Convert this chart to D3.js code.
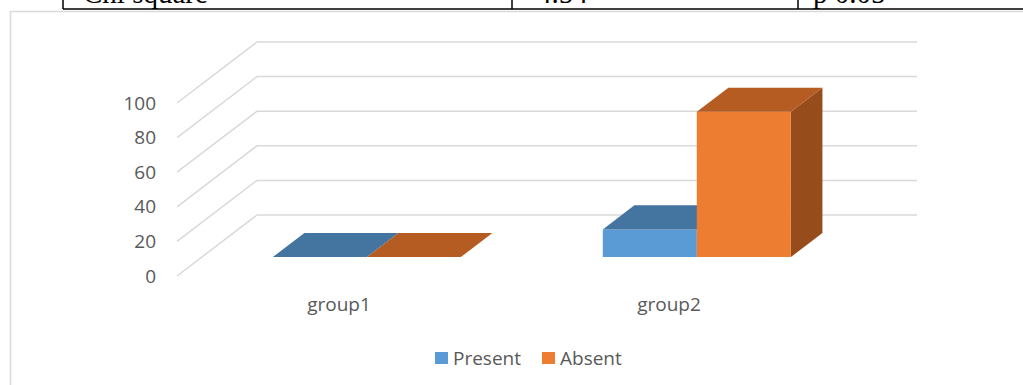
<!DOCTYPE html>
<html>
<head>
<meta charset="utf-8">
<script src="https://cdn.jsdelivr.net/npm/d3@7"></script>
<style>
  body { margin: 0; background: #fff; }
  svg { display: block; }
</style>
</head>
<body>
<svg width="1023" height="385"></svg>
<script>
// chart data
const categories = ['group1', 'group2'];
const series = ['Present', 'Absent'];
const present = [0, 16];
const absent = [0, 84];
const yTicks = [0, 20, 40, 60, 80, 100];

// bits of the table row cut off above the chart
const tableCells = ['Chi square', '4.54', 'p 0.05'];

const svg = d3.select('svg');

// table remnant
const tableX = d3.scaleOrdinal().domain(tableCells).range([83, 537, 813]);
svg.selectAll('text.cell').data(tableCells)
    .enter().append('text')
    .attr('class', 'cell')
    .attr('x', d => tableX(d))
    .attr('y', 3)
    .attr('font-family', 'Liberation Serif')
    .attr('font-size', 29)
    .attr('fill', '#000')
    .text(d => d);
svg.append('line')
    .attr('x1', 63).attr('x2', 1023).attr('y1', 9).attr('y2', 9)
    .attr('stroke', '#000').attr('stroke-width', 1.5);
[63, 512, 798].forEach(x => {
    svg.append('line')
        .attr('x1', x).attr('x2', x).attr('y1', 0).attr('y2', 9)
        .attr('stroke', '#000').attr('stroke-width', 1.5);
});

// chart frame
svg.append('path')
    .attr('d', 'M10.5,386 V11.5 H1024')
    .attr('fill', 'none')
    .attr('stroke', '#d9d9d9')
    .attr('stroke-width', 1.5);

// 3d projection: z is depth 0 (front) .. 1 (back wall)
const depthX = 80, depthY = -61;
const x = d3.scaleBand().domain(categories).range([177, 837]);
const xs = d3.scaleBand().domain(series).range([0, x.bandwidth()]).paddingOuter(0.755);
const y = d3.scaleLinear().domain([0, 100]).range([276, 103]);
const P = (sx, v, z) => [sx + z * depthX, y(v) + z * depthY];

const grid = svg.append('g')
    .attr('stroke', '#d9d9d9')
    .attr('stroke-width', 1.5)
    .attr('fill', 'none');
yTicks.forEach(t => {
    const a = P(x.range()[0], t, 0), b = P(x.range()[0], t, 1), c = P(x.range()[1], t, 1);
    grid.append('path').attr('d', d3.line()([a, b, c]));
});

svg.selectAll('text.tick').data(yTicks)
    .enter().append('text')
    .attr('class', 'tick')
    .attr('x', 156)
    .attr('y', d => y(d))
    .attr('dy', '0.35em')
    .attr('text-anchor', 'end')
    .attr('font-family', 'Open Sans')
    .attr('font-size', 19)
    .attr('fill', '#595959')
    .text(d => d);

// bars
const colors = {
    Present: {front: '#5b9bd5', top: '#4475a0', side: '#3b6891'},
    Absent: {front: '#ed7d31', top: '#b45c22', side: '#974c1b'}
};
const z0 = 0.31, z1 = 0.705;
const rows = [];
categories.forEach((c, i) => {
    rows.push({cat: c, s: 'Present', v: present[i]});
    rows.push({cat: c, s: 'Absent', v: absent[i]});
});

const line = d3.line();
const bars = svg.append('g');
rows.forEach(d => {
    const xl = x(d.cat) + xs(d.s), xr = xl + xs.bandwidth();
    const col = colors[d.s];
    const g = bars.append('g');
    if (d.v > 0) {
        g.append('path')
            .attr('d', line([P(xr, 0, z0), P(xr, 0, z1), P(xr, d.v, z1), P(xr, d.v, z0)]) + 'Z')
            .attr('fill', col.side);
        g.append('path')
            .attr('d', line([P(xl, 0, z0), P(xr, 0, z0), P(xr, d.v, z0), P(xl, d.v, z0)]) + 'Z')
            .attr('fill', col.front);
    }
    g.append('path')
        .attr('d', line([P(xl, d.v, z0), P(xr, d.v, z0), P(xr, d.v, z1), P(xl, d.v, z1)]) + 'Z')
        .attr('fill', col.top);
});

// category labels
svg.selectAll('text.cat').data(categories)
    .enter().append('text')
    .attr('class', 'cat')
    .attr('x', d => x(d) + x.bandwidth() / 2 - 3)
    .attr('y', 304)
    .attr('dy', '0.35em')
    .attr('text-anchor', 'middle')
    .attr('font-family', 'Open Sans')
    .attr('font-size', 19)
    .attr('fill', '#595959')
    .text(d => d);

// legend
const legendX = d3.scaleOrdinal().domain(series).range([435, 542]);
const legend = svg.selectAll('g.legend').data(series)
    .enter().append('g')
    .attr('class', 'legend')
    .attr('transform', d => `translate(${legendX(d)},352)`);
legend.append('rect')
    .attr('width', 13).attr('height', 12)
    .attr('fill', d => colors[d].front);
legend.append('text')
    .attr('x', 18)
    .attr('y', 6)
    .attr('dy', '0.35em')
    .attr('font-family', 'Open Sans')
    .attr('font-size', 19)
    .attr('fill', '#595959')
    .text(d => d);
</script>
</body>
</html>
